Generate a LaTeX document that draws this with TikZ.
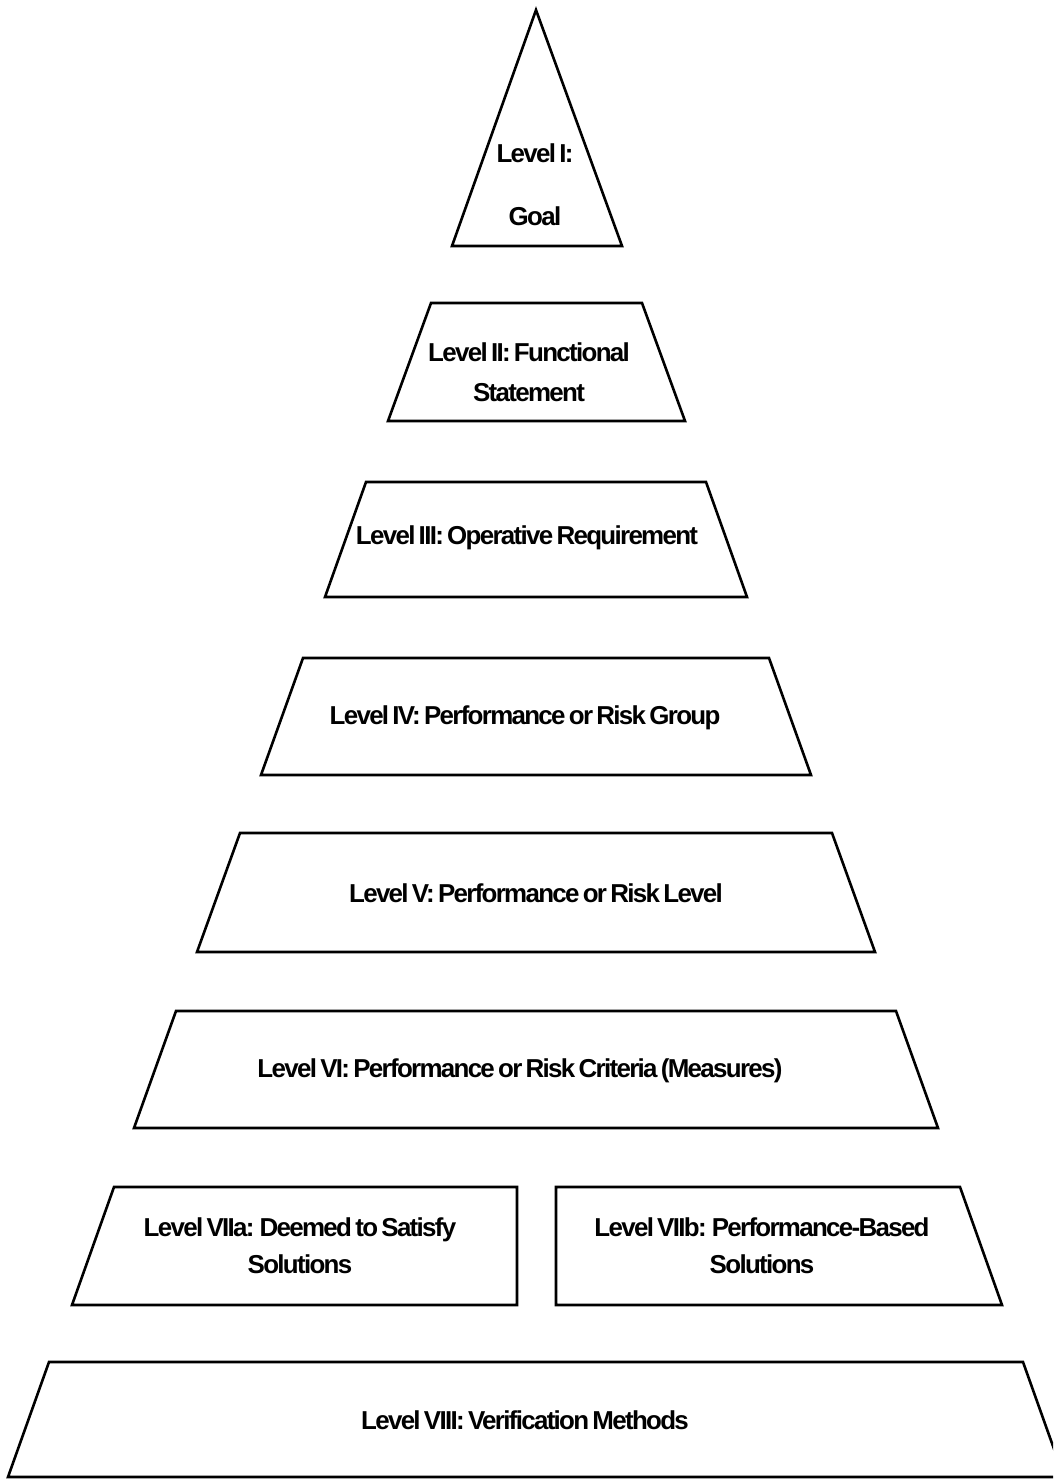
\documentclass[tikz,border=0pt]{standalone}
\usepackage{fontspec}
\setmainfont[LetterSpace=-6.5,WordSpace=0.6,BoldFont={Liberation Sans Bold}]{Liberation Sans}
\begin{document}
\begin{tikzpicture}[x=1bp,y=-1bp,
  levelshape/.style={draw=black,line width=2.6bp,line join=miter},
  lbl/.style={font=\fontsize{26}{29}\selectfont\bfseries,inner sep=0pt,align=center,text=black}]
\useasboundingbox (0,0) rectangle (1053,1479);
\clip (0,0) rectangle (1053,1479);
\fill[white] (0,0) rectangle (1053,1479);
% Level I
\draw[levelshape] (536,10) -- (622,246) -- (452,246) -- cycle;
% Level II
\draw[levelshape] (431,303) -- (642,303) -- (685,421) -- (388,421) -- cycle;
% Level III
\draw[levelshape] (366,482) -- (706,482) -- (747,597) -- (325,597) -- cycle;
% Level IV
\draw[levelshape] (303,658) -- (769,658) -- (811,775) -- (261,775) -- cycle;
% Level V
\draw[levelshape] (240,833) -- (832,833) -- (875,952) -- (197,952) -- cycle;
% Level VI
\draw[levelshape] (176,1011) -- (896,1011) -- (938,1128) -- (134,1128) -- cycle;
% Level VIIa
\draw[levelshape] (114,1187) -- (517,1187) -- (517,1305) -- (72,1305) -- cycle;
% Level VIIb
\draw[levelshape] (556,1187) -- (960,1187) -- (1002,1305) -- (556,1305) -- cycle;
% Level VIII
\draw[levelshape] (49,1362) -- (1023,1362) -- (1064,1477) -- (8,1477) -- cycle;
% Labels
\node[lbl] (l1a) at (535,153) {Level I:};
\node[lbl] (l1b) at (535,216) {Goal};
\node[lbl] (l2) at (529,372) {Level II: Functional\\[11bp]Statement};
\node[lbl] (l3) at (527,538) {Level III: Operative Requirement};
\node[lbl] (l4) at (525,718) {Level IV: Performance or Risk Group};
\node[lbl] (l5) at (536,893) {Level V: Performance or Risk Level};
\node[lbl] (l6) at (520,1071) {Level VI: Performance or Risk Criteria (Measures)};
\node[lbl] (l7a) at (300,1246) {Level VIIa: Deemed to Satisfy\\[8bp]Solutions};
\node[lbl] (l7b) at (762,1246) {Level VIIb: Performance-Based\\[8bp]Solutions};
\node[lbl] (l8) at (525,1420) {Level VIII: Verification Methods};
\end{tikzpicture}
\end{document}
